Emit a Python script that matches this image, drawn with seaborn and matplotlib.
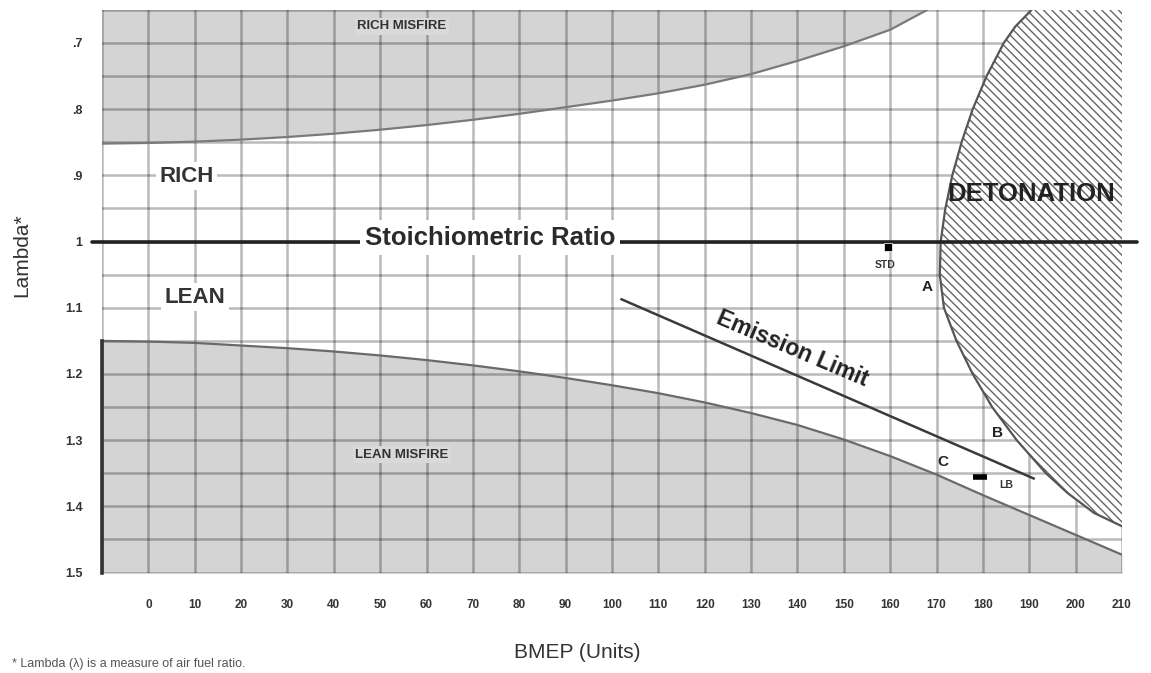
import numpy as np
import pandas as pd
import matplotlib
matplotlib.use('Agg')
import matplotlib.pyplot as plt
import seaborn as sns

sns.set_style('white')
plt.rcParams['font.family'] = ['Liberation Sans', 'DejaVu Sans']
plt.rcParams['hatch.linewidth'] = 1.0

# boundary curves (BMEP units, lambda)
rich_bmep = [-10, 0, 10, 20, 30, 40, 50, 60, 70, 80, 90, 100, 110, 120, 130, 140, 150, 160, 168]
rich_lambda = [0.852, 0.851, 0.849, 0.846, 0.842, 0.837, 0.831, 0.824, 0.816, 0.807, 0.797, 0.787,
               0.776, 0.763, 0.747, 0.727, 0.705, 0.680, 0.650]

lean_bmep = [-10, 0, 10, 20, 30, 40, 50, 60, 70, 80, 90, 100, 110, 120, 130, 140, 150, 160, 170, 180, 190, 200, 210]
lean_lambda = [1.150, 1.151, 1.153, 1.157, 1.161, 1.166, 1.172, 1.179, 1.187, 1.196, 1.206, 1.217,
               1.229, 1.243, 1.259, 1.277, 1.299, 1.324, 1.352, 1.383, 1.413, 1.443, 1.473]

det_lambda = [0.650, 0.675, 0.700, 0.750, 0.800, 0.850, 0.900, 0.950, 1.000, 1.050, 1.100, 1.150,
              1.200, 1.250, 1.300, 1.350, 1.380, 1.410, 1.430]
det_bmep = [190.5, 187.0, 184.5, 180.8, 177.8, 175.4, 173.4, 171.9, 170.9, 170.7, 171.6, 174.3,
            177.8, 182.0, 187.3, 193.6, 198.3, 204.0, 210.0]

emis_bmep = [102, 191]
emis_lambda = [1.087, 1.358]

stoich = 1.0

# operating points
pt_names = ['STD', 'LB']
pt_bmep = [159.5, 179.3]
pt_lambda = [1.008, 1.356]

x_ticks = list(range(-10, 211, 10))
x_labels = [''] + [str(v) for v in range(0, 211, 10)]
y_major = [0.7, 0.8, 0.9, 1.0, 1.1, 1.2, 1.3, 1.4, 1.5]
y_labels = ['.7', '.8', '.9', '1', '1.1', '1.2', '1.3', '1.4', '1.5']
y_minor = [0.65, 0.75, 0.85, 0.95, 1.05, 1.15, 1.25, 1.35, 1.45]

fig = plt.figure(figsize=(11.51, 6.73), dpi=100)
ax = fig.add_axes([0.0886, 0.1492, 0.8862, 0.8361])
ax.set_xlim(-10, 210)
ax.set_ylim(1.5, 0.65)

gray = '#d4d4d4'
# misfire regions
ax.fill_between(rich_bmep, rich_lambda, 0.6, color=gray, linewidth=0, zorder=1)
ax.fill_between(lean_bmep, lean_lambda, 1.6, color=gray, linewidth=0, zorder=1)
# detonation region
ax.fill_betweenx(det_lambda, det_bmep, 210, facecolor='white', edgecolor='#666666',
                 hatch='\\' * 4, linewidth=0, zorder=2.6)

sns.lineplot(x=rich_bmep, y=rich_lambda, color='#7a7a7a', lw=1.6, ax=ax, zorder=2.7)
sns.lineplot(x=lean_bmep, y=lean_lambda, color='#6a6a6a', lw=1.6, ax=ax, zorder=2.7)
sns.lineplot(x=det_bmep, y=det_lambda, sort=False, orient='y', color='#555555', lw=1.6, ax=ax, zorder=2.7)
sns.lineplot(x=emis_bmep, y=emis_lambda, color='#3a3a3a', lw=1.8, ax=ax, zorder=2.7)
ax.axhline(stoich, xmin=-0.0098, xmax=1.0147, color='#222222', lw=2.6, clip_on=False, zorder=2.8)

pts = pd.DataFrame({'name': pt_names, 'bmep': pt_bmep, 'lam': pt_lambda})
sns.scatterplot(data=pts[pts['name'] == 'STD'], x='bmep', y='lam', marker='s', s=40,
                color='black', ax=ax, zorder=4)
sns.scatterplot(data=pts[pts['name'] == 'LB'], x='bmep', y='lam', marker='_', s=110,
                linewidth=4, color='black', ax=ax, zorder=4)

# grid drawn over the shaded regions
ax.set_axisbelow(False)
ax.set_xticks(x_ticks)
ax.set_xticklabels(x_labels)
ax.set_yticks(y_major)
ax.set_yticklabels(y_labels)
ax.set_yticks(y_minor, minor=True)
ax.grid(True, which='both', color='black', alpha=0.27, lw=1.8)
ax.tick_params(axis='x', length=12, width=1.8, color='#b5b5b5', pad=7,
               labelsize=8.5, labelcolor='#333333')
ax.tick_params(axis='y', which='both', length=10, width=1.8, color='#b5b5b5', pad=4,
               labelsize=9, labelcolor='#333333')
for lab in ax.get_xticklabels() + ax.get_yticklabels():
    lab.set_fontweight('bold')

for side in ['top', 'right', 'bottom']:
    ax.spines[side].set_visible(False)
ax.spines['left'].set_bounds(1.15, 1.5)
ax.spines['left'].set_color('#333333')
ax.spines['left'].set_linewidth(2.6)
ax.spines['left'].set_zorder(3)
ax.set_xlabel('')
ax.set_ylabel('')

white_box = dict(boxstyle='square,pad=0.15', fc='white', ec='none')
gray_box = dict(boxstyle='square,pad=0.2', fc='#d9d9d9', ec='none')

ax.text(54.7, 0.675, 'RICH MISFIRE', fontsize=9.5, fontweight='bold', color='#333333',
        ha='center', va='center', bbox=gray_box, zorder=5)
ax.text(54.7, 1.322, 'LEAN MISFIRE', fontsize=9.5, fontweight='bold', color='#333333',
        ha='center', va='center', bbox=gray_box, zorder=5)
ax.text(8.2, 0.901, 'RICH', fontsize=16, fontweight='bold', color='#333333',
        ha='center', va='center', bbox=white_box, zorder=5)
ax.text(10.1, 1.084, 'LEAN', fontsize=16, fontweight='bold', color='#333333',
        ha='center', va='center', bbox=white_box, zorder=5)
ax.text(73.7, 0.994, 'Stoichiometric Ratio', fontsize=18.5, fontweight='bold', color='#2a2a2a',
        ha='center', va='center', bbox=dict(boxstyle='square,pad=0.2', fc='white', ec='none'), zorder=5)
ax.text(190.5, 0.928, 'DETONATION', fontsize=18.5, fontweight='bold', color='#222222',
        ha='center', va='center', zorder=5)
ax.text(139, 1.162, 'Emission Limit', fontsize=16.5, fontweight='bold', color='#222222',
        ha='center', va='center', rotation=-23, rotation_mode='anchor', zorder=5)
ax.text(158.8, 1.035, 'STD', fontsize=7.5, fontweight='bold', color='#333333',
        ha='center', va='center', zorder=5)
ax.text(167.9, 1.068, 'A', fontsize=11, fontweight='bold', color='#222222',
        ha='center', va='center', zorder=5)
ax.text(183.2, 1.289, 'B', fontsize=11, fontweight='bold', color='#222222',
        ha='center', va='center', zorder=5)
ax.text(171.3, 1.333, 'C', fontsize=11, fontweight='bold', color='#222222',
        ha='center', va='center', zorder=5)
ax.text(185.1, 1.368, 'LB', fontsize=7.5, fontweight='bold', color='#333333',
        ha='center', va='center', zorder=5)

fig.text(22 / 1151, 1 - 255 / 673, 'Lambda*', rotation=90, fontsize=15,
         color='#333333', ha='center', va='center')
fig.text(577 / 1151, 1 - 652 / 673, 'BMEP (Units)', fontsize=15,
         color='#333333', ha='center', va='center')
fig.text(12 / 1151, 1 - 664 / 673, '* Lambda (\u03bb) is a measure of air fuel ratio.',
         fontsize=9, color='#555555', ha='left', va='center')

fig.savefig('out.png', dpi=100)
